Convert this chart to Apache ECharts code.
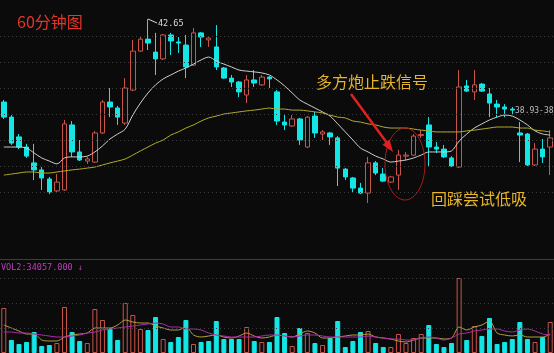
<!DOCTYPE html>
<html><head><meta charset="utf-8">
<script src="https://cdn.jsdelivr.net/npm/echarts@6/dist/echarts.min.js"></script>
<style>html,body{margin:0;padding:0;background:#0b0b0b;overflow:hidden}#c{width:554px;height:353px}</style>
</head><body><div id="c"></div>
<script>
// ---- data ----
const categories = Array.from({length: 73}, (_, i) => 'K' + (i + 1));
// [open, close, low, high]
const candles = [
[39.46,38.88,38.81,39.54],[38.88,37.88,37.81,38.96],[38.12,37.73,37.65,38.23],[37.73,37.38,37.31,37.85],
[37.12,36.85,36.46,37.85],[36.85,36.54,36.08,36.96],[36.50,36.00,35.92,36.58],[36.04,36.38,36.00,36.69],
[36.08,38.62,36.04,38.77],[38.58,37.54,37.35,38.73],[37.54,37.23,37.19,38.00],[37.19,37.27,37.08,37.35],
[37.15,38.27,37.12,38.35],[38.27,39.46,38.23,39.54],[39.46,39.27,38.88,40.00],[39.23,38.88,38.58,39.31],
[38.65,40.00,38.58,40.38],[39.92,41.42,39.88,41.85],[41.42,41.88,41.38,42.00],[41.88,41.73,41.46,42.65],
[41.38,41.12,40.50,42.12],[41.12,42.04,41.08,42.08],[42.04,41.81,41.27,42.12],[41.77,41.73,41.35,41.96],
[41.65,40.81,40.38,42.04],[40.88,42.12,40.85,42.31],[42.12,41.96,41.58,42.15],[41.85,41.92,41.58,42.00],
[41.58,40.81,40.69,42.42],[40.77,40.38,40.35,40.81],[40.38,40.23,40.04,40.50],[40.23,39.85,39.65,40.27],
[39.73,40.31,39.42,40.50],[40.31,40.19,40.04,40.69],[40.12,40.42,40.08,40.50],[40.42,40.35,40.00,40.46],
[39.85,38.73,38.58,39.92],[38.69,38.58,38.38,39.00],[38.54,38.81,38.50,38.96],[38.81,38.00,37.81,38.85],
[37.73,38.88,37.69,38.92],[38.92,38.27,38.08,39.08],[38.23,38.31,38.00,38.38],[38.27,38.12,37.81,38.31],
[38.08,36.92,36.23,38.15],[36.88,36.58,36.46,36.92],[36.54,36.15,36.00,36.58],[36.15,35.96,35.92,36.35],
[35.96,37.12,35.58,37.35],[37.12,36.73,36.65,37.19],[36.69,36.42,36.38,36.92],[36.38,36.58,36.35,36.62],
[36.65,37.42,36.08,37.62],[37.38,37.42,37.23,37.54],[37.42,38.15,37.38,38.23],[38.17,38.21,38.08,38.38],
[38.58,37.73,36.96,38.88],[37.73,37.65,37.50,37.92],[37.65,37.35,37.31,37.81],[37.31,37.00,36.96,37.38],
[36.96,40.04,36.92,40.69],[40.08,39.88,39.85,40.31],[39.85,40.12,39.54,40.69],[40.15,39.88,39.85,40.19],
[39.77,39.42,38.88,40.00],[39.38,39.27,38.88,39.54],[39.27,39.19,38.88,39.38],[39.19,39.15,38.96,39.27],
[38.27,38.19,37.15,38.69],[38.23,37.04,37.00,38.27],[37.04,37.65,37.00,37.88],[37.65,37.35,37.12,38.04],
[37.73,38.08,36.65,38.38]
];
const maShort = [37.73,37.73,37.73,37.69,37.50,37.31,37.19,37.08,37.31,37.35,
37.35,37.38,37.54,37.77,38.04,38.23,38.42,38.96,39.42,39.81,
40.12,40.35,40.50,40.65,40.77,40.92,41.08,41.19,41.04,40.92,
40.81,40.69,40.65,40.62,40.58,40.50,40.31,40.08,39.81,39.54,
39.38,39.23,39.08,38.92,38.62,38.31,38.00,37.69,37.54,37.38,
37.27,37.15,37.19,37.23,37.31,37.42,37.54,37.54,37.54,37.58,
37.96,38.23,38.46,38.62,38.77,38.88,38.96,38.92,38.77,38.58,
38.35,38.23,38.19];
const maLong = [36.65,36.69,36.73,36.77,36.77,36.73,36.73,36.77,36.81,36.85,
36.88,36.92,36.96,37.04,37.12,37.19,37.27,37.42,37.58,37.73,
37.88,38.00,38.19,38.31,38.46,38.58,38.73,38.85,38.92,39.00,
39.04,39.08,39.12,39.15,39.19,39.23,39.19,39.19,39.15,39.15,
39.12,39.08,39.04,38.96,38.88,38.85,38.73,38.69,38.62,38.58,
38.50,38.46,38.46,38.46,38.42,38.38,38.35,38.31,38.31,38.31,
38.31,38.35,38.38,38.42,38.46,38.50,38.50,38.50,38.46,38.46,
38.38,38.35,38.31];
const volumes = [45000,13000,9000,11000,21000,7000,8000,10000,46000,21000,
12000,10000,44000,33000,25000,13000,50000,38000,24000,23000,
36000,14000,11000,16000,33000,9000,11000,12000,32000,14000,
14000,14000,26000,12000,11000,11000,36000,20000,7000,25000,
20000,10000,8000,15000,32000,6000,12000,21000,22000,10000,
6000,6000,19000,10000,15000,19000,28000,9000,6000,10000,
75000,13000,27000,17000,35000,9000,11000,14000,31000,14000,
11000,16000,31000];
const volUp = [1,0,0,0,0,0,0,1,1,0, 0,1,1,1,0,0,1,1,1,0, 0,1,0,0,0,1,0,0,0,0,
0,0,1,0,1,0,0,0,1,0, 1,0,1,0,0,0,0,0,1,0, 0,1,1,1,1,1,0,0,0,0, 1,0,1,0,0,0,0,0,0,0, 1,0,1];
const volMa5 = [28000,25000,22000,19000,19000,13000,12000,12000,16000,18000,
19000,20000,25000,25000,25000,28000,33000,31000,30000,30000,
27000,25000,23000,23000,26000,18000,16000,17000,18000,16000,
15000,17000,20000,17000,15000,16000,18000,17000,16000,19000,
22000,20000,15000,15000,16000,17000,18000,18000,19000,16000,
15000,14000,12000,11000,13000,15000,15000,15000,14000,15000,
26000,23000,26000,28000,32000,20000,18000,17000,18000,16000,
16000,16000,19000];
const volMa10 = [21000,21000,20000,20000,19000,18000,17000,16000,16000,17000,
18000,20000,21000,23000,24000,25000,26000,27000,28000,29000,
30000,29000,26000,26000,24000,24000,23000,20000,18000,17000,
16000,16000,16000,16000,17000,18000,18000,17000,16000,17000,
18000,18000,17000,16000,16000,16000,16000,16000,17000,16000,
15000,14000,14000,13000,13000,15000,16000,15000,13000,15000,
19000,20000,22000,23000,24000,24000,22000,21000,23000,24000,
22000,19000,18000];
const priceGridLevels = [36,37,38,39,40,41,42];
const volGridLevels = [25000,50000,75000];

// ---- chart ----
const UP = '#c8544a', DOWN = '#14e6e6';
const chart = echarts.init(document.getElementById('c'), null, {renderer: 'canvas'});
const gridLine = {type: [1, 3], color: '#3c3c3c', width: 1};
const mono = '8.5px "DejaVu Sans Mono"';
chart.setOption({
  backgroundColor: '#0b0b0b',
  animation: false,
  grid: [
    {left: -2.8, width: 557, top: 10, height: 234},
    {left: -2.8, width: 557, top: 259, height: 94}
  ],
  xAxis: [
    {type: 'category', data: categories, gridIndex: 0, show: false, boundaryGap: true},
    {type: 'category', data: categories, gridIndex: 1, show: false, boundaryGap: true}
  ],
  yAxis: [
    {type: 'value', gridIndex: 0, min: 34, max: 43, show: false},
    {type: 'value', gridIndex: 1, min: 0, max: 94000, show: false}
  ],
  series: [
    {type: 'line', data: [], xAxisIndex: 0, yAxisIndex: 0, z: 0, silent: true,
     markLine: {silent: true, symbol: ['none', 'none'], label: {show: false}, lineStyle: gridLine,
       data: priceGridLevels.map(v => ({yAxis: v}))}},
    {type: 'line', data: [], xAxisIndex: 1, yAxisIndex: 1, z: 0, silent: true,
     markLine: {silent: true, symbol: ['none', 'none'], label: {show: false}, lineStyle: gridLine,
       data: volGridLevels.map(v => ({yAxis: v}))}},
    {type: 'candlestick', data: candles, xAxisIndex: 0, yAxisIndex: 0, barWidth: 5, z: 3,
     itemStyle: {color: 'transparent', color0: DOWN, borderColor: UP, borderColor0: DOWN, borderWidth: 1}},
    {type: 'line', data: maShort, xAxisIndex: 0, yAxisIndex: 0, showSymbol: false, smooth: 0.3, z: 4,
     lineStyle: {color: '#cfcfcf', width: 1}},
    {type: 'line', data: maLong, xAxisIndex: 0, yAxisIndex: 0, showSymbol: false, smooth: 0.3, z: 4,
     lineStyle: {color: '#b3ab2a', width: 1}},
    {type: 'bar', xAxisIndex: 1, yAxisIndex: 1, barWidth: 5, z: 3,
     data: volumes.map((v, i) => ({value: v, itemStyle: volUp[i]
       ? {color: 'transparent', borderColor: UP, borderWidth: 1}
       : {color: DOWN, borderColor: DOWN, borderWidth: 1}}))},
    {type: 'line', data: volMa5, xAxisIndex: 1, yAxisIndex: 1, showSymbol: false, smooth: 0.3, z: 4,
     lineStyle: {color: '#b0a23a', width: 1}},
    {type: 'line', data: volMa10, xAxisIndex: 1, yAxisIndex: 1, showSymbol: false, smooth: 0.3, z: 4,
     lineStyle: {color: '#b028b0', width: 1}}
  ],
  graphic: [
    {type: 'line', shape: {x1: 0, y1: 259.5, x2: 554, y2: 259.5}, style: {stroke: '#3e3e3e', lineWidth: 1}, z: 1},
    {type: 'text', left: 17, top: 14, style: {text: '60分钟图', fill: '#e4352a', font: '16px "Noto Sans CJK SC"'}, z: 10},
    {type: 'text', left: 316, top: 74, style: {text: '多方炮止跌信号', fill: '#e8b526', font: '16px "Noto Sans CJK SC"'}, z: 10},
    {type: 'text', left: 431, top: 191, style: {text: '回踩尝试低吸', fill: '#e8b526', font: '16px "Noto Sans CJK SC"'}, z: 10},
    {type: 'text', left: 1, top: 263, style: {text: 'VOL2:34057.000 ↓', fill: '#c03cc0', font: mono}, z: 10},
    {type: 'text', left: 158, top: 19, style: {text: '42.65', fill: '#dcdcdc', font: mono}, z: 10},
    {type: 'line', shape: {x1: 148, y1: 19, x2: 157, y2: 23}, style: {stroke: '#dcdcdc', lineWidth: 1}, z: 10},
    {type: 'text', left: 515, top: 107, style: {text: '38.93-38.93', fill: '#bdbdbd', font: '8px "DejaVu Sans Mono"'}, z: 10},
    {type: 'ellipse', shape: {cx: 405, cy: 164, rx: 20, ry: 36}, style: {fill: 'none', stroke: '#a81c1c', lineWidth: 1}, z: 10},
    {type: 'line', shape: {x1: 351, y1: 94, x2: 387, y2: 143}, style: {stroke: '#e02020', lineWidth: 2.5}, z: 10},
    {type: 'polygon', shape: {points: [[393, 152], [389.5, 139.5], [382.5, 144.8]]}, style: {fill: '#e02020'}, z: 10}
  ]
});
</script>
</body></html>
